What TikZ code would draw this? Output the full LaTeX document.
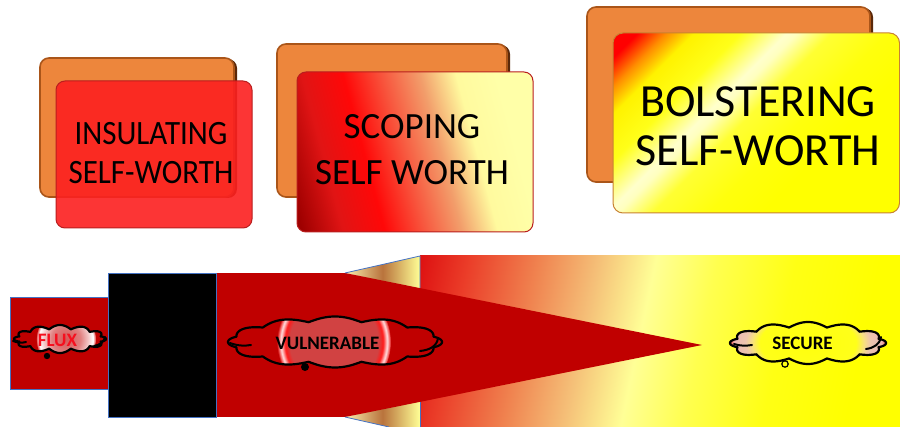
\documentclass[tikz,border=0pt]{standalone}
\usepackage{fontspec}
\setmainfont{Carlito}
\definecolor{bandred}{RGB}{192,0,0}
\definecolor{edgeblue}{RGB}{68,114,196}
\definecolor{orangeback}{RGB}{237,134,60}
\definecolor{orangeedge}{RGB}{170,85,25}
\definecolor{orangedark}{RGB}{90,40,10}
\definecolor{cardred}{RGB}{252,32,32}
\definecolor{cardredge}{RGB}{185,30,30}
\definecolor{cardyedge}{RGB}{200,130,50}
\definecolor{triL}{RGB}{250,240,175}
\definecolor{triM}{RGB}{185,115,60}
\definecolor{triR}{RGB}{255,255,150}
\definecolor{fluxred}{RGB}{245,15,30}
\definecolor{secfill}{RGB}{255,255,20}

\pgfdeclarehorizontalshading{bandshade}{100bp}{rgb(0bp)=(0.86,0.06,0.06); rgb(23.7bp)=(0.87,0.07,0.07); rgb(28.6bp)=(0.92,0.24,0.16); rgb(35.7bp)=(0.94,0.51,0.31); rgb(41.9bp)=(0.96,0.75,0.47); rgb(47.8bp)=(1,1,0.59); rgb(54.1bp)=(1,1,0.31); rgb(62.2bp)=(1,1,0.08); rgb(70.8bp)=(1,1,0); rgb(100bp)=(1,1,0)}
\pgfdeclarehorizontalshading{scopeshade}{100bp}{rgb(0bp)=(0.6,0,0); rgb(25bp)=(0.62,0,0); rgb(32.7bp)=(0.88,0.08,0.08); rgb(40.4bp)=(1,0.03,0.03); rgb(48.1bp)=(0.97,0.35,0.25); rgb(54.8bp)=(0.95,0.62,0.42); rgb(61.5bp)=(1,0.98,0.62); rgb(69.2bp)=(1,1,0.66); rgb(100bp)=(1,1,0.66)}
\pgfdeclarehorizontalshading{bolstershade}{100bp}{rgb(0bp)=(1,0,0); rgb(28.2bp)=(1,0,0); rgb(31.2bp)=(1,0.55,0); rgb(34.1bp)=(1,0.95,0); rgb(39bp)=(1,1,0.1); rgb(43.8bp)=(1,1,0.8); rgb(44.9bp)=(1,1,0.75); rgb(48.5bp)=(1,1,0.2); rgb(54.4bp)=(1,1,0.05); rgb(60bp)=(1,1,0); rgb(100bp)=(1,1,0)}
\pgfdeclareradialshading{vulnring}{\pgfpoint{0bp}{0bp}}{rgb(0bp)=(0.82,0.26,0.26); rgb(19.5bp)=(0.82,0.26,0.26); rgb(21.5bp)=(1,0.1,0.1); rgb(23.3bp)=(1,0.88,0.88); rgb(24.5bp)=(0.95,0.3,0.3); rgb(25bp)=(0.75,0,0); rgb(50bp)=(0.75,0,0)}
\pgfdeclareradialshading{fluxring}{\pgfpoint{0bp}{0bp}}{rgb(0bp)=(0.84,0.35,0.35); rgb(12bp)=(0.88,0.5,0.5); rgb(19bp)=(0.96,0.8,0.8); rgb(22.5bp)=(1,1,1); rgb(24.3bp)=(0.92,0.4,0.4); rgb(25bp)=(0.75,0,0); rgb(50bp)=(0.75,0,0)}
\pgfdeclareradialshading{securering}{\pgfpoint{0bp}{0bp}}{rgb(0bp)=(1,1,0.05); rgb(15bp)=(1,1,0.1); rgb(17.5bp)=(0.97,0.88,0.5); rgb(19.5bp)=(0.93,0.77,0.68); rgb(23bp)=(0.92,0.72,0.7); rgb(24.4bp)=(0.93,0.3,0.25); rgb(25bp)=(0.9,0.15,0.1); rgb(50bp)=(0.9,0.15,0.1)}

\begin{document}
\begin{tikzpicture}[x=1pt,y=-1pt,
  backcard/.style={fill=orangeback, draw=orangeedge, line width=1.6pt, rounded corners=9pt},
  backshadow/.style={fill=orangedark, rounded corners=9pt},
  cardtext/.style={inner sep=0pt, align=center, text=black},
  cloudline/.style={draw=black, line width=2.2pt, line join=round},
  curl/.style={draw=black, line width=2pt, line cap=round},
  bubbletext/.style={inner sep=0pt, font=\bfseries\fontsize{19}{19}\selectfont},
  edge/.style={draw=edgeblue, line width=0.8pt},
  trishade/.style={left color=triL, right color=triR, middle color=triM},
  cloudpath/.style n args={5}{insert path={plot[domain=0:360, samples=361, variable=\t] ({#1+(#3+#5*abs(cos(6*\t)))*cos(\t)}, {#2+(#4+#5*abs(cos(6*\t)))*sin(\t)}) -- cycle}}
]
\useasboundingbox (0,0) rectangle (900,427);
\fill[white] (0,0) rectangle (900,427);

% card 1
\fill[backshadow] (43,59) rectangle (237,198);
\path[backcard] (40,58) rectangle (234,197);
\path[fill=cardred, fill opacity=0.9, draw=cardredge, line width=1pt, rounded corners=9pt] (56,81) rectangle (252,228);
\node[cardtext, font=\fontsize{31}{39}\selectfont] (insul) at (151,153) {\scalebox{1}[1.1]{INSULATING}\\\scalebox{1}[1.1]{SELF-WORTH}};

% card 2
\fill[backshadow] (280,45) rectangle (510,198);
\path[backcard] (277,44) rectangle (507,197);
\begin{scope}
\clip[rounded corners=9pt] (297,72) rectangle (533,232);
\shade[shading=scopeshade, shading angle=15] (285,22) rectangle (545,282);
\end{scope}
\draw[draw=cardredge, line width=1pt, rounded corners=9pt] (297,72) rectangle (533,232);
\node[cardtext, font=\fontsize{37}{46}\selectfont] (scope) at (412,150) {SCOPING\\SELF WORTH};

% card 3
\fill[backshadow] (590,8) rectangle (873,183);
\path[backcard] (587,7) rectangle (870,182);
\begin{scope}
\clip[rounded corners=10pt] (613,33) rectangle (899.5,213);
\shade[shading=bolstershade, shading angle=-45] (586,-47) rectangle (926,293);
\end{scope}
\draw[draw=cardyedge, line width=1pt, rounded corners=10pt] (613,33) rectangle (899.5,213);
\node[cardtext, font=\fontsize{46}{49}\selectfont] (bolster) at (758,126) {BOLSTERING\\SELF-WORTH};

% bottom band
\begin{scope}
\clip (420,256) rectangle (900,427);
\shade[shading=bandshade, shading angle=-12] (420,101.5) rectangle (900,581.5);
\end{scope}
\shade[trishade] (345,273) -- (420,256) -- (420,290) -- cycle;
\shade[trishade] (345,417) -- (389,427) -- (420,427) -- (420,400) -- cycle;
\fill[bandred] (216,273) rectangle (346,417);
\fill[bandred] (345,273) -- (702,345) -- (345,417) -- cycle;
\draw[edge] (345,273) -- (420,256) -- (420,288);
\draw[edge] (345,417) -- (389,427);
\draw[edge] (420,402) -- (420,427);
\path[edge, fill=bandred] (10,297) rectangle (108,389);
\path[edge, fill=black] (108,273) rectangle (216,417);

% FLUX cloud
\path[fill=bandred, cloudpath={60}{339}{42}{10}{4}];
\begin{scope}
\path[clip, cloudpath={60}{339}{42}{10}{4}];
\shade[shading=fluxring] (66,339) circle (30pt);
\end{scope}
\path[cloudline, cloudpath={60}{339}{42}{10}{4}];
\draw[curl] (13,341) .. controls (18,343) and (22,343) .. (26,342);
\draw[curl] (94,346) .. controls (100,345) and (104,342) .. (105,337);
\fill (47,356) circle (3.2pt);
\node[bubbletext, text=fluxred] (fluxtext) at (57.5,340) {FLUX};

% VULNERABLE cloud
\path[fill=bandred, cloudpath={335}{342}{102}{20.5}{5}];
\begin{scope}
\path[clip, cloudpath={335}{342}{102}{20.5}{5}];
\shade[shading=vulnring] (334,342) circle (57pt);
\end{scope}
\path[cloudline, cloudpath={335}{342}{102}{20.5}{5}];
\draw[curl] (230,343) .. controls (238,346) and (245,346) .. (251,345);
\draw[curl] (420,351) .. controls (430,350) and (437,346) .. (438,338);
\fill (305,367) circle (4pt);
\node[bubbletext] (vulntext) at (327.5,343) {VULNERABLE};

% SECURE cloud
\path[fill=secfill, cloudpath={808}{343}{73}{16}{5}];
\begin{scope}
\path[clip, cloudpath={808}{343}{73}{16}{5}];
\shade[shading=securering] (808,343) ellipse (80pt and 45pt);
\end{scope}
\path[cloudline, cloudpath={808}{343}{73}{16}{5}];
\draw[curl] (734,344) .. controls (740,346) and (746,346) .. (752,345);
\draw[curl] (866,349) .. controls (874,348) and (880,344) .. (881,337);
\filldraw[fill=secfill, draw=black, line width=1.2pt] (785,364) circle (3.2pt);
\node[bubbletext] (securetext) at (802.5,343) {SECURE};
\end{tikzpicture}
\end{document}
